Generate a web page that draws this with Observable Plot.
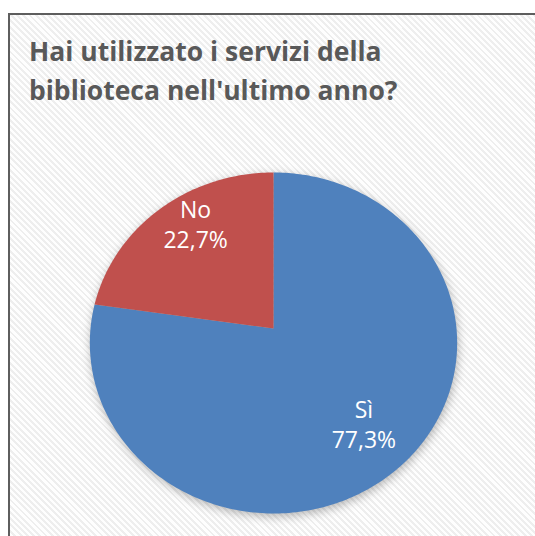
<!DOCTYPE html>
<html>
<head>
<meta charset="utf-8">
<script src="https://cdn.jsdelivr.net/npm/d3@7"></script>
<script src="https://cdn.jsdelivr.net/npm/@observablehq/plot@0.6"></script>
<style>
  html, body { margin: 0; padding: 0; background: #ffffff; }
  #wrap { position: relative; width: 535px; height: 536px; overflow: hidden; background: #fff; }
  #frame {
    position: absolute; left: 8px; top: 13px; width: 620px; height: 620px;
    border: 2px solid #5e5e5e;
    background: repeating-linear-gradient(45deg, #fefefe 0px, #fefefe 2.4px, #eeeeee 2.4px, #eeeeee 4.4px);
  }
  #title {
    position: absolute; left: 29px; top: 32px;
    font-family: "Open Sans", sans-serif; font-weight: 700; font-size: 26.5px;
    line-height: 39px; color: #595959; white-space: nowrap;
  }
  #chart { position: absolute; left: 0; top: 0; }
  #chart svg [aria-label="line"] { filter: drop-shadow(1px 3px 5px rgba(0,0,0,0.28)); }
</style>
</head>
<body>
<div id="wrap">
  <div id="frame"></div>
  <div id="title">Hai utilizzato i servizi della<br>biblioteca nell'ultimo anno?</div>
  <div id="chart"></div>
</div>
<script>
// Data
const categories = ["Sì", "No"];
const values = [77.3, 22.7];
const valueLabels = ["77,3%", "22,7%"];
const sliceColors = ["#4F81BD", "#C0504D"];

// Perspective view of a tilted disc (view constants)
const k = 0.085, t = 0.925;
function project(X, Z) {
  const d = 1 + k * Z;
  return [X / d, t * Z / d];
}

const total = d3.sum(values);
const rows = [];
const labelRows = [];
let cum = 0;
categories.forEach((cat, i) => {
  const a0 = cum / total * 2 * Math.PI;
  cum += values[i];
  const a1 = cum / total * 2 * Math.PI;
  const n = Math.max(8, Math.ceil((a1 - a0) / (Math.PI / 180)));
  rows.push({cat, px: 0, py: 0});
  for (let j = 0; j <= n; j++) {
    const a = a0 + (a1 - a0) * j / n;
    const [px, py] = project(Math.sin(a), Math.cos(a));
    rows.push({cat, px, py});
  }
  rows.push({cat, px: 0, py: 0});
  // label anchor: mid-angle, pulled slightly toward the slice's own centre for small slices
  const am = (a0 + a1) / 2;
  const r = 0.72 + 0.06 * (values[i] < total / 2 ? 1 : 0);
  const am2 = values[i] < total / 2 ? am + 0.1 : am;
  const [lx, ly] = project(r * Math.sin(am2), r * Math.cos(am2));
  labelRows.push({cat, lx, ly, name: cat, pct: valueLabels[i]});
});

const chart = Plot.plot({
  width: 535,
  height: 536,
  margin: 0,
  style: {background: "transparent", overflow: "visible"},
  x: {domain: [-1, 1], range: [90, 456], axis: null},
  y: {domain: [-1, 1], range: [511, 145], axis: null},
  color: {domain: categories, range: sliceColors},
  marks: [
    Plot.line(rows, {x: "px", y: "py", z: "cat", fill: "cat", stroke: "none", curve: "linear"}),
    Plot.text(labelRows, {x: "lx", y: "ly", text: "name", dy: -15, fill: "white", fontSize: 23, fontFamily: "Open Sans", fontWeight: 400}),
    Plot.text(labelRows, {x: "lx", y: "ly", text: "pct", dy: 15, fill: "white", fontSize: 23, fontFamily: "Open Sans", fontWeight: 400})
  ]
});
document.getElementById("chart").appendChild(chart);
</script>
</body>
</html>
